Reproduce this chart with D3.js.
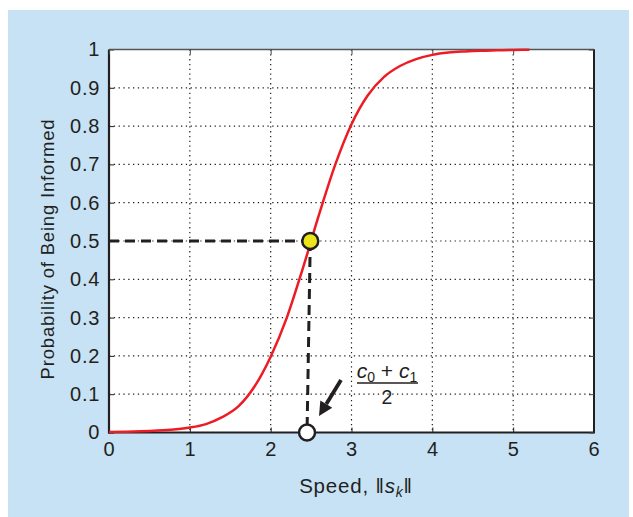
<!DOCTYPE html>
<html><head><meta charset="utf-8">
<script src="https://cdn.jsdelivr.net/npm/d3@7"></script>
<style>body{margin:0;background:#fff}svg{display:block}text{font-family:"Liberation Sans",Arial,sans-serif;fill:#231f20}</style>
</head><body>
<script>
const speedX = [0,0.2,0.4,0.6,0.8,1.0,1.2,1.4,1.6,1.8,2.0,2.2,2.4,2.6,2.8,3.0,3.2,3.4,3.6,3.8,4.0,4.2,4.4,4.6,4.8,5.0,5.2];
const probY  = [0.001,0.0017,0.003,0.005,0.008,0.013,0.022,0.04,0.068,0.12,0.198,0.3,0.43,0.57,0.70,0.805,0.88,0.928,0.957,0.975,0.986,0.992,0.995,0.997,0.998,0.999,0.9995];
const xTicks = [0,1,2,3,4,5,6];
const yTicks = [0,0.1,0.2,0.3,0.4,0.5,0.6,0.7,0.8,0.9,1];
const yTickLabels = ["0","0.1","0.2","0.3","0.4","0.5","0.6","0.7","0.8","0.9","1"];
const midPoint = {x:2.49, y:0.5};
const basePoint = {x:2.45, y:0};
const xTitle = "Speed, ";
const yTitle = "Probability of Being Informed";

const W=633,H=517;
const m={l:109,t:49.5,r:594,b:432.5};
const svg=d3.select("body").append("svg").attr("width",W).attr("height",H);
svg.append("rect").attr("x",8).attr("y",10).attr("width",621).attr("height",507).attr("fill","#c7e2f4");
const x=d3.scaleLinear().domain([0,6]).range([m.l,m.r]);
const y=d3.scaleLinear().domain([0,1]).range([m.b,m.t]);
svg.append("rect").attr("x",m.l).attr("y",m.t).attr("width",m.r-m.l).attr("height",m.b-m.t).attr("fill","#fff");

// grid
const g=svg.append("g");
g.selectAll(".vg").data(xTicks.slice(1,-1)).join("line")
 .attr("x1",d=>x(d)).attr("x2",d=>x(d)).attr("y1",m.t).attr("y2",m.b)
 .attr("stroke","#231f20").attr("stroke-width",1.2).attr("stroke-dasharray","1.3,3.5");
g.selectAll(".hg").data(yTicks.slice(1,-1)).join("line")
 .attr("y1",d=>y(d)).attr("y2",d=>y(d)).attr("x1",m.l).attr("x2",m.r)
 .attr("stroke","#231f20").attr("stroke-width",1.2).attr("stroke-dasharray","1.3,3.5");

// axes
const xa=svg.append("g").attr("transform",`translate(0,${m.b})`)
 .call(d3.axisBottom(x).tickValues(xTicks).tickSize(-5).tickPadding(9).tickFormat(d3.format("d")));
const ya=svg.append("g").attr("transform",`translate(${m.l},0)`)
 .call(d3.axisLeft(y).tickValues(yTicks).tickSize(-5).tickPadding(9).tickFormat((d,i)=>yTickLabels[i]));
const xt=svg.append("g").attr("transform",`translate(0,${m.t})`)
 .call(d3.axisTop(x).tickValues(xTicks).tickSize(-5).tickFormat(""));
const yr=svg.append("g").attr("transform",`translate(${m.r},0)`)
 .call(d3.axisRight(y).tickValues(yTicks).tickSize(-5).tickFormat(""));
[xa,ya].forEach(a=>{a.select(".domain").attr("stroke","#231f20").attr("stroke-width",2.2);
 a.selectAll(".tick line").attr("stroke","#231f20").attr("stroke-width",1);
 a.selectAll(".tick text").style("font-size","20px").style("letter-spacing","0.7px").attr("fill","#231f20").style("font-family","Liberation Sans, Arial, sans-serif");});
xt.select(".domain").attr("stroke","#555").attr("stroke-width",1.5);
yr.select(".domain").attr("stroke","#231f20").attr("stroke-width",2);
[xt,yr].forEach(a=>a.selectAll(".tick line").attr("stroke","#444").attr("stroke-width",1));
xt.selectAll(".domain").attr("d",`M${m.l},0H${m.r}`);
yr.selectAll(".domain").attr("d",`M0,${m.t}V${m.b}`);
xa.selectAll(".domain").attr("d",`M${m.l-1},0H${m.r+1}`);
ya.selectAll(".domain").attr("d",`M0,${m.t}V${m.b+1}`);

// curve
const pts=speedX.map((v,i)=>[v,probY[i]]);
svg.append("path").datum(pts).attr("fill","none").attr("stroke","#ed1c24").attr("stroke-width",2.5)
 .attr("d",d3.line().x(d=>x(d[0])).y(d=>y(d[1])).curve(d3.curveMonotoneX));

// dashed guides
svg.append("line").attr("x1",x(0)).attr("x2",x(midPoint.x)).attr("y1",y(midPoint.y)).attr("y2",y(midPoint.y))
 .attr("stroke","#231f20").attr("stroke-width",3).attr("stroke-dasharray","10,6");
svg.append("line").attr("x1",x(midPoint.x)).attr("x2",x(basePoint.x)).attr("y1",y(midPoint.y)).attr("y2",y(basePoint.y))
 .attr("stroke","#231f20").attr("stroke-width",3).attr("stroke-dasharray","10,6");

svg.append("circle").attr("cx",x(basePoint.x)).attr("cy",y(basePoint.y)).attr("r",8)
 .attr("fill","#fff").attr("stroke","#231f20").attr("stroke-width",2.5);
svg.append("circle").attr("cx",x(midPoint.x)).attr("cy",y(midPoint.y)).attr("r",8)
 .attr("fill","#ede51c").attr("stroke","#231f20").attr("stroke-width",2.5);

// arrow
const ax1=341,ay1=380,ax2=319,ay2=416;
const ang=Math.atan2(ay2-ay1,ax2-ax1);
const hl=14,hw=7;
const bx=ax2-hl*Math.cos(ang),by=ay2-hl*Math.sin(ang);
svg.append("line").attr("x1",ax1).attr("y1",ay1).attr("x2",bx).attr("y2",by).attr("stroke","#231f20").attr("stroke-width",3.8);
svg.append("path").attr("d",`M${ax2},${ay2}L${bx+hw*Math.sin(ang)},${by-hw*Math.cos(ang)}L${bx-hw*Math.sin(ang)},${by+hw*Math.cos(ang)}Z`).attr("fill","#231f20");

// fraction annotation
const fr=svg.append("text").attr("x",387).attr("y",378).attr("text-anchor","middle").style("font-size","21px");
fr.append("tspan").attr("font-style","italic").text("c");
fr.append("tspan").style("font-size","14px").attr("dy",4).text("0");
fr.append("tspan").attr("dy",-4).text(" + ");
fr.append("tspan").attr("font-style","italic").text("c");
fr.append("tspan").style("font-size","14px").attr("dy",4).text("1");
svg.append("line").attr("x1",357).attr("x2",418).attr("y1",383).attr("y2",383).attr("stroke","#231f20").attr("stroke-width",1.3);
svg.append("text").attr("x",387).attr("y",404).attr("text-anchor","middle").style("font-size","19.5px").text("2");

// titles
const xtl=svg.append("text").attr("x",356).attr("y",493).attr("text-anchor","middle").style("font-size","20.5px").style("letter-spacing","0.8px");
xtl.append("tspan").text(xTitle);
xtl.append("tspan").text("\u2016");
xtl.append("tspan").attr("font-style","italic").text("s");
xtl.append("tspan").attr("font-style","italic").style("font-size","14px").attr("dy",4).text("k");
xtl.append("tspan").attr("dy",-4).text("\u2016");
svg.append("text").attr("transform",`translate(54,249) rotate(-90)`).attr("text-anchor","middle").style("font-size","18.5px").style("letter-spacing","0.8px").text(yTitle);
</script>
</body></html>
